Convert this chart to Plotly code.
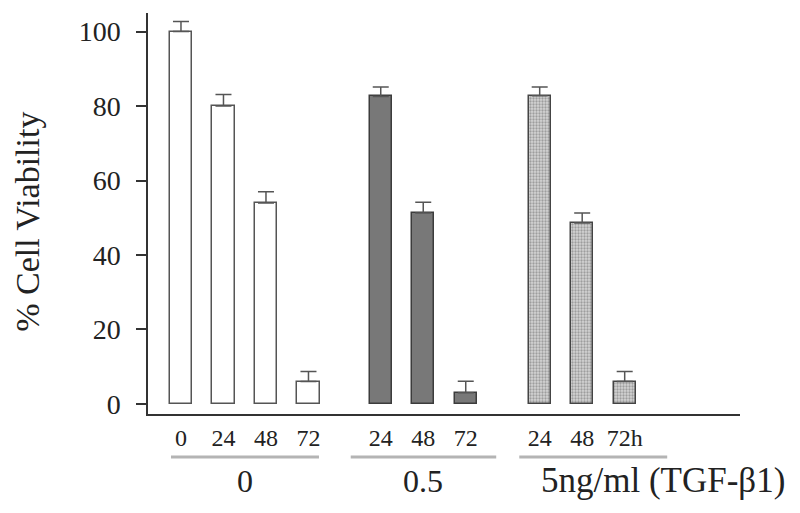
import plotly.graph_objects as go

# hours per TGF-b1 dose group
doses = ["0", "0.5", "5ng/ml (TGF-\u03b21)"]
hours_0 = ["0", "24", "48", "72"]
hours_05 = ["24", "48", "72"]
hours_5 = ["24", "48", "72h"]

viability_0 = [100, 80, 54, 6]
viability_05 = [82.6, 51.3, 3]
viability_5 = [82.8, 48.6, 6]

err_0 = [2.7, 3.1, 3.0, 2.7]
err_05 = [2.5, 2.9, 3.1]
err_5 = [2.3, 2.7, 2.7]

# layout: where each group starts on the numeric x axis
group_start = [0.0, 4.7, 8.44]
bar_w = 0.52
font = "Liberation Serif, Times New Roman, serif"

fig = go.Figure()

groups = [
    (hours_0, viability_0, err_0,
     dict(color="white", line=dict(color="#555", width=1.5))),
    (hours_05, viability_05, err_05,
     dict(color="#787878", line=dict(color="#3c3c3c", width=1.5))),
    (hours_5, viability_5, err_5,
     dict(color="#c8c8c8", line=dict(color="#444", width=1.5),
          pattern=dict(shape=".", fgcolor="#666", bgcolor="#d4d4d4", size=3, solidity=0.45))),
]

tickvals, ticktext = [], []
for (hrs, vals, errs, marker), start in zip(groups, group_start):
    xs = [start + i for i in range(len(hrs))]
    tickvals += xs
    ticktext += hrs
    fig.add_trace(go.Bar(
        x=xs, y=vals, width=bar_w, marker=marker,
        error_y=dict(type="data", array=errs, arrayminus=[0] * len(errs), symmetric=False,
                     color="#555", thickness=1.5, width=8),
        showlegend=False,
    ))

# underlines and group labels
under_pad = [(-0.235, 0.247), (-0.706, 0.717), (-0.48, 1.0)]
for (hrs, _, _, _), start, (a, b), name in zip(groups, group_start, under_pad, doses):
    x0 = start + a
    x1 = start + len(hrs) - 1 + b
    fig.add_shape(type="line", xref="x", yref="paper", x0=x0, x1=x1, y0=-0.107, y1=-0.107,
                  line=dict(color="#b4b4b4", width=3))
    cx = (x0 + x1) / 2
    size = 32
    if name.startswith("5ng"):
        cx = start + 2.9
        size = 35
    fig.add_annotation(x=cx, y=-0.167, xref="x", yref="paper", text=name, showarrow=False,
                       xanchor="center", yanchor="middle",
                       font=dict(family=font, size=size, color="#222"))

fig.add_annotation(x=-0.204, y=0.48, xref="paper", yref="paper", text="% Cell Viability",
                   textangle=-90, showarrow=False, xanchor="center", yanchor="middle",
                   font=dict(family=font, size=34, color="#222"))

# page body has an 8px margin, so the figure is a bit smaller and shifted
fig.update_layout(
    width=792, height=505,
    margin=dict(l=140, r=60, t=5, b=99),
    paper_bgcolor="white", plot_bgcolor="white",
    bargap=0,
    font=dict(family=font, color="#222"),
    xaxis=dict(range=[-0.776, 13.153], showline=True, linecolor="#333", linewidth=1.5,
               showgrid=False, zeroline=False, tickvals=tickvals, ticktext=ticktext,
               ticks="", tickfont=dict(size=24), ticklabelstandoff=1),
    yaxis=dict(range=[-2.7, 105], showline=True, linecolor="#333", linewidth=1.5,
               showgrid=False, zeroline=False, tickvals=[0, 20, 40, 60, 80, 100],
               ticks="outside", ticklen=10, tickcolor="#333", tickwidth=1.5,
               tickfont=dict(size=28), ticklabelstandoff=10),
)

fig.write_html("out.html")
